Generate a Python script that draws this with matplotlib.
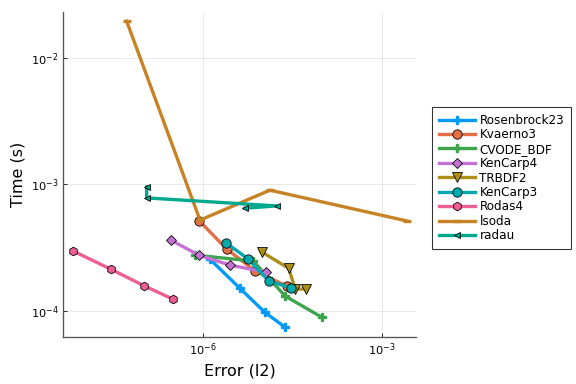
import matplotlib
matplotlib.use("Agg")
import matplotlib.pyplot as plt
import numpy as np

names = ["Rosenbrock23", "Kvaerno3", "CVODE_BDF", "KenCarp4", "TRBDF2",
         "KenCarp3", "Rodas4", "lsoda", "radau"]
colors = ["#009AFA", "#E36F47", "#3EA44E", "#C371D2", "#AC8E18",
          "#00A9AD", "#ED5F92", "#C68225", "#00A98D"]
markers = ["P", "o", "P", "D", "v", "o", "h", "_", "<"]
msizes = [6, 7, 6, 5.5, 7, 7, 6.5, 6, 4]

# log10 values
err_log = [
    [-5.89, -5.384, -4.965, -4.624],         # Rosenbrock23
    [-6.067, -5.607, -5.133, -4.601],        # Kvaerno3
    [-6.139, -5.161, -4.624, -4.008],        # CVODE_BDF
    [-6.542, -6.067, -5.552, -4.948],        # KenCarp4
    [-5.020, -4.567, -4.456, -4.277],        # TRBDF2
    [-5.619, -5.245, -4.903, -4.523],        # KenCarp3
    [-8.191, -7.554, -6.995, -6.513],        # Rodas4
    [-7.285, -6.055, -4.881, -2.587],        # lsoda
    [-6.95, -6.95, -4.768, -5.30],           # radau
]
time_log = [
    [-3.588, -3.819, -4.008, -4.126],
    [-3.287, -3.509, -3.680, -3.801],
    [-3.557, -3.604, -3.880, -4.047],
    [-3.439, -3.559, -3.635, -3.691],
    [-3.531, -3.661, -3.824, -3.824],
    [-3.460, -3.588, -3.759, -3.817],
    [-3.523, -3.667, -3.798, -3.903],
    [-1.714, -3.281, -3.045, -3.287],
    [-3.019, -3.106, -3.169, -3.187],
]

fig = plt.figure(figsize=(6, 4), dpi=96)
ax = fig.add_axes([63/576, 1-337/384, (416-63)/576, (337-12)/384])

for i, name in enumerate(names):
    x = 10.0 ** np.array(err_log[i])
    y = 10.0 ** np.array(time_log[i])
    if markers[i] == "_":
        ax.plot(x, y, color=colors[i], lw=2.5, marker="_", ms=msizes[i],
                mew=2.5, label=name)
    else:
        ax.plot(x, y, color=colors[i], lw=2.5, marker=markers[i], ms=msizes[i],
                mec="black" if markers[i] != "P" else colors[i],
                mew=0.6 if markers[i] != "P" else 1.0,
                label=name)

ax.set_xscale("log")
ax.set_yscale("log")
ax.set_xlim(10**-8.354, 10**-2.43)
ax.set_ylim(10**-4.202, 10**-1.641)
ax.set_xticks([1e-6, 1e-3])
ax.set_yticks([1e-4, 1e-3, 1e-2])
ax.minorticks_off()
ax.grid(True, color="black", alpha=0.1, lw=0.6)
for s in ["top", "right"]:
    ax.spines[s].set_visible(False)
for s in ["left", "bottom"]:
    ax.spines[s].set_color("#555555")
    ax.spines[s].set_linewidth(1.0)
ax.tick_params(direction="in", length=3, width=0.8, labelsize=8.5, color="#333333")
ax.set_xlabel("Error (l2)", fontsize=12)
ax.set_ylabel("Time (s)", fontsize=12)

leg = fig.legend(loc="center left", bbox_to_anchor=(432/576, 1-178/384),
                 fontsize=9, frameon=True, fancybox=False, edgecolor="black",
                 handlelength=3.0, labelspacing=0.12, borderpad=0.55,
                 handletextpad=0.4, borderaxespad=0)
leg.get_frame().set_linewidth(0.8)

fig.savefig("out.png", dpi=96)
